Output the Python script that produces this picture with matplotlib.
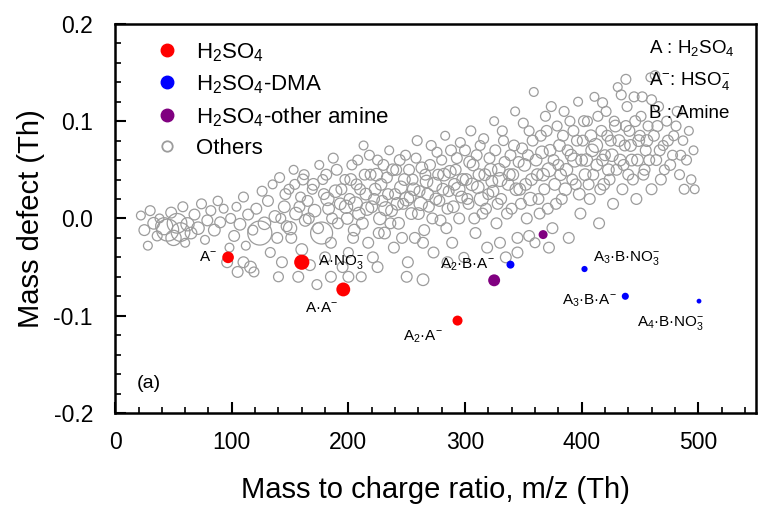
import matplotlib
matplotlib.use("Agg")
import matplotlib.pyplot as plt
from matplotlib.lines import Line2D
from matplotlib.ticker import MultipleLocator

plt.rcParams['font.family'] = ['Liberation Sans', 'DejaVu Sans']
plt.rcParams['mathtext.fontset'] = 'custom'
plt.rcParams['mathtext.rm'] = 'Liberation Sans'
plt.rcParams['mathtext.it'] = 'Liberation Sans:italic'
plt.rcParams['mathtext.default'] = 'regular'
plt.rcParams['axes.unicode_minus'] = False

# ---- Others (gray open circles): m/z, mass defect, marker size ----
others = [
    (22,0.003,40),(25,-0.012,60),(28,-0.028,40),(30,0.008,50),(33,-0.005,70),(36,-0.018,50),(38,0.0,40),
    (42,-0.008,150),(45,-0.012,250),(48,0.006,60),(50,-0.02,120),(53,-0.005,200),(56,-0.014,180),(58,0.012,50),(60,-0.025,40),
    (62,-0.006,90),(65,-0.015,70),(68,0.004,60),(71,-0.01,80),(74,0.015,50),(77,-0.022,40),(79,-0.002,60),
    (82,0.008,50),(85,-0.012,70),(88,0.018,45),(90,-0.004,60),(93,0.01,40),(96,-0.045,60),(98,-0.03,40),(99,0.0,50),
    (102,-0.018,60),(104,0.012,40),(107,-0.006,70),(110,0.022,50),(112,-0.028,40),(114,0.004,60),(116,-0.05,70),(118,-0.012,50),(119,-0.055,50),
    (121,0.01,60),(124,-0.015,300),(126,0.028,50),(128,-0.005,80),(131,0.018,60),(133,-0.035,50),(135,0.035,40),(137,0.002,70),(139,-0.02,60),
    (141,0.042,50),(143,-0.045,60),(145,0.012,70),(147,-0.008,60),(149,0.03,50),(151,-0.02,60),(153,0.05,40),(155,0.005,80),(157,-0.06,60),(159,0.022,50),(160,-0.032,70),
    (161,0.04,60),(163,-0.002,70),(165,0.018,60),(167,-0.048,60),(169,0.03,50),(171,0.008,80),(173,-0.068,50),(175,0.055,40),(177,-0.015,250),(179,0.025,60),(180,-0.04,60),
    (181,0.045,60),(183,0.01,70),(185,-0.025,60),(187,0.062,50),(189,0.028,80),(191,-0.005,60),(193,0.015,70),(195,-0.05,60),(197,0.04,50),(199,0.0,70),(200,-0.035,50),
    (201,0.02,60),(203,0.055,50),(205,-0.012,70),(207,0.035,60),(209,0.005,80),(211,-0.06,50),(213,0.075,40),(215,0.025,70),(217,-0.025,60),(219,0.045,60),(220,0.012,70),
    (221,-0.04,60),(223,0.03,70),(225,0.06,50),(227,0.0,80),(229,0.018,60),(231,-0.015,70),(233,0.042,60),(235,0.07,40),(237,0.008,70),(239,-0.03,60),(240,0.025,60),
    (241,0.05,60),(243,-0.005,70),(245,0.032,80),(247,0.015,60),(249,0.065,50),(251,-0.045,60),(253,0.022,70),(255,0.04,60),(257,-0.02,60),(259,0.08,50),(260,0.005,70),
    (261,0.028,60),(263,0.052,70),(265,-0.012,60),(267,0.038,80),(269,0.012,60),(271,0.075,50),(273,-0.035,60),(275,0.02,70),(277,0.045,60),(279,-0.002,60),(280,0.06,50),
    (281,0.03,70),(283,0.085,40),(285,0.01,60),(287,0.048,80),(289,-0.025,60),(291,0.035,70),(293,0.062,60),(295,0.0,60),(297,0.022,70),(299,-0.04,50),(300,0.07,60),
    (301,0.04,70),(303,0.015,60),(305,0.09,50),(307,0.055,70),(309,-0.015,60),(311,0.032,80),(313,0.075,50),(315,0.005,60),(317,0.045,70),(319,-0.03,60),(320,0.025,60),
    (321,0.062,60),(323,0.038,70),(325,0.1,40),(327,-0.005,60),(329,0.05,80),(331,0.02,60),(333,0.08,50),(335,-0.04,60),(337,0.035,70),(339,0.065,60),(340,0.01,60),
    (341,0.045,70),(343,0.11,40),(345,-0.02,60),(347,0.03,70),(349,0.072,60),(351,0.055,80),(353,0.0,60),(355,0.09,50),(357,0.04,70),(359,0.13,40),(360,-0.025,50),
    (361,0.06,70),(363,0.02,60),(365,0.085,60),(367,0.045,80),(369,0.105,50),(371,0.01,60),(373,0.07,70),(375,-0.01,60),(377,0.035,70),(379,0.095,50),(380,0.055,60),
    (381,0.075,70),(383,0.02,60),(385,0.11,50),(387,0.05,80),(389,-0.02,60),(391,0.065,70),(393,0.09,60),(395,0.035,60),(397,0.12,40),(399,0.005,60),(400,0.06,70),
    (401,0.08,60),(403,0.045,70),(405,0.1,50),(407,0.02,60),(409,0.07,80),(411,0.125,40),(413,0.055,70),(415,-0.005,60),(417,0.09,60),(419,0.035,70),(420,0.065,60),
    (421,0.11,50),(423,0.05,70),(425,0.08,60),(427,0.015,60),(429,0.095,70),(431,0.135,40),(433,0.06,70),(435,0.03,60),(437,0.075,60),(439,0.115,50),(440,0.045,60),
    (441,0.09,60),(443,0.06,70),(445,0.125,50),(447,0.02,60),(449,0.08,70),(451,0.105,50),(453,0.045,60),(455,0.07,60),(457,0.095,50),(459,0.145,40),(460,0.03,60),
    (462,0.085,60),(464,0.06,60),(466,0.115,50),(468,0.04,60),(470,0.075,50),(473,0.1,50),(476,0.055,60),(479,0.085,50),
    (482,0.11,50),(485,0.065,50),(488,0.03,50),(492,0.09,40),(496,0.07,40),
    # denser core of the band
    (142,0.0,50),(146,0.025,60),(150,-0.01,90),(154,0.035,50),(158,0.012,60),(162,0.045,50),(166,0.0,60),(170,0.035,70),(174,-0.01,60),(178,0.04,50),(182,0.02,90),(186,0.0,60),(190,0.05,60),(194,0.03,60),(198,0.012,90),
    (202,0.04,70),(204,-0.02,60),(206,0.015,100),(208,0.06,50),(210,0.03,60),(212,-0.005,70),(214,0.045,60),(216,0.01,90),(218,0.065,50),(222,0.02,60),(224,0.045,80),(226,-0.015,60),(228,0.035,70),(230,0.055,60),(232,0.01,100),(234,0.025,60),(236,-0.005,60),(238,0.05,70),(242,0.015,80),(244,0.06,60),(246,-0.02,60),(248,0.04,70),(250,0.02,100),
    (252,0.05,60),(254,0.005,70),(256,0.03,80),(258,0.062,50),(262,0.015,90),(264,-0.025,60),(266,0.045,60),(268,0.025,70),(270,0.055,60),(272,0.0,60),(274,0.035,100),(276,0.068,50),(278,0.018,60),(282,0.045,80),(284,-0.01,60),(286,0.028,60),(288,0.07,60),(290,0.012,70),(292,0.05,60),(294,0.03,100),(296,0.078,50),(298,0.04,70),
    (302,0.02,60),(304,0.058,70),(306,0.035,80),(308,0.0,60),(310,0.065,60),(312,0.045,70),(314,0.02,100),(316,0.082,50),(318,0.01,60),(322,0.05,80),(324,0.028,70),(326,0.07,60),(328,0.015,60),(330,0.04,100),(332,0.09,50),(334,0.058,60),(336,0.005,60),(338,0.045,70),(342,0.075,60),(344,0.03,80),(346,0.058,60),(348,0.015,60),(350,0.098,50),
    (352,0.035,70),(354,0.065,60),(356,0.02,90),(358,0.08,60),(362,0.045,70),(364,0.005,60),(366,0.068,80),(368,0.03,60),(370,0.09,60),(372,0.05,100),(374,0.115,50),(376,0.06,60),(378,0.015,60),(382,0.045,70),(384,0.085,60),(386,0.03,80),(388,0.07,60),(390,0.1,50),(392,0.04,60),(394,0.06,100),(396,0.08,60),(398,0.025,70),
    (402,0.1,60),(404,0.06,80),(406,0.035,60),(408,0.085,70),(410,0.045,60),(412,0.075,100),(414,0.105,50),(416,0.03,60),(418,0.06,70),(418,0.119,50),(422,0.085,60),(424,0.04,60),(426,0.065,80),(428,0.1,50),(430,0.05,60),(432,0.08,70),(434,0.127,50),(436,0.055,60),(438,0.143,50),(438,0.095,60),(442,0.075,70),(444,0.04,60),(446,0.1,60),(448,0.06,70),(450,0.085,60),(452,0.125,50),(454,0.05,60),(456,0.08,70),(458,0.06,60),(460,0.122,50),(463,0.147,45),
    (465,0.095,60),(467,0.07,60),(471,0.05,50),(474,0.08,60),(478,0.065,50),(481,0.095,50),(484,0.045,50),(487,0.08,45),(490,0.06,50),(494,0.04,45),(497,0.03,40),
    # lower outliers
    (264,-0.063,70),(372,-0.03,60),(355,-0.018,60),(345,-0.035,60),(330,-0.025,60),(285,-0.045,60),(250,-0.06,60),(225,-0.05,60),(200,-0.06,60),(185,-0.06,60),(140,-0.06,50),(105,-0.055,60),(110,-0.045,60),
]
others_mz = [p[0] for p in others]
others_md = [p[1] for p in others]
others_size = [p[2] for p in others]

# ---- H2SO4 clusters (red) ----
h2so4_mz = [96.8, 160.0, 195.6, 293.6]
h2so4_md = [-0.040, -0.045, -0.073, -0.105]
h2so4_size = [70, 120, 100, 52]
h2so4_labels = ['A$^{-}$', 'A·NO$_3^{-}$', 'A·A$^{-}$', 'A$_2$·A$^{-}$']

# ---- H2SO4-DMA clusters (blue) ----
dma_mz = [339.0, 402.5, 437.5, 500.7]
dma_md = [-0.0475, -0.052, -0.080, -0.085]
dma_size = [33, 20, 26, 12]
dma_labels = ['A$_2$·B·A$^{-}$', 'A$_3$·B·NO$_3^{-}$', 'A$_3$·B·A$^{-}$', 'A$_4$·B·NO$_3^{-}$']

# ---- H2SO4-other amine clusters (purple) ----
amine_mz = [325.0, 367.0]
amine_md = [-0.0636, -0.0166]
amine_size = [74, 42]

fig = plt.figure(figsize=(7.58, 5.08), dpi=100)
ax = fig.add_axes([0.152, 0.187, 0.846, 0.766])

ax.scatter(others_mz, others_md, s=others_size, facecolors='none',
           edgecolors='#9c9c9c', linewidths=0.9, zorder=2)
ax.scatter(h2so4_mz, h2so4_md, s=h2so4_size, color='#ff0000', zorder=3, linewidths=0)
ax.scatter(dma_mz, dma_md, s=dma_size, color='#0000ff', zorder=3, linewidths=0)
ax.scatter(amine_mz, amine_md, s=amine_size, color='#800080', zorder=3, linewidths=0)

# annotations (text offsets in points from the marker)
ann_fs = 11
red_offsets = [(-8, 0, 'right', 'center'), (12, 0, 'left', 'center'),
               (-4, -8, 'right', 'top'), (-11, -6, 'right', 'top')]
for x, y, t, (dx, dy, ha, va) in zip(h2so4_mz, h2so4_md, h2so4_labels, red_offsets):
    ax.annotate(t, (x, y), xytext=(dx, dy), textcoords='offset points',
                ha=ha, va=va, fontsize=ann_fs)
blue_offsets = [(-11, 0, 'right', 'center'), (6, 8, 'left', 'center'),
                (-6, -3, 'right', 'center'), (-20, -16, 'center', 'center')]
for x, y, t, (dx, dy, ha, va) in zip(dma_mz, dma_md, dma_labels, blue_offsets):
    ax.annotate(t, (x, y), xytext=(dx, dy), textcoords='offset points',
                ha=ha, va=va, fontsize=ann_fs)

ax.text(0.033, 0.077, '(a)', transform=ax.transAxes, fontsize=14, ha='left', va='center')

ax.text(0.833, 0.938, 'A : H$_2$SO$_4$', transform=ax.transAxes, fontsize=13.5, ha='left', va='center')
ax.text(0.833, 0.853, 'A$^{-}$: HSO$_4^{-}$', transform=ax.transAxes, fontsize=13.5, ha='left', va='center')
ax.text(0.833, 0.769, 'B : Amine', transform=ax.transAxes, fontsize=13.5, ha='left', va='center')

handles = [
    Line2D([], [], marker='o', linestyle='none', markersize=9, color='#ff0000'),
    Line2D([], [], marker='o', linestyle='none', markersize=9, color='#0000ff'),
    Line2D([], [], marker='o', linestyle='none', markersize=9, color='#800080'),
    Line2D([], [], marker='o', linestyle='none', markersize=7.5, markerfacecolor='none',
           markeredgecolor='#9c9c9c', markeredgewidth=1.3),
]
labels = ['H$_2$SO$_4$', 'H$_2$SO$_4$-DMA', 'H$_2$SO$_4$-other amine', 'Others']
ax.legend(handles, labels, loc='upper left', bbox_to_anchor=(0.025, 0.99),
          frameon=False, fontsize=16, handletextpad=0.3, labelspacing=0.42,
          borderaxespad=0.2)

ax.set_xlim(0, 550)
ax.set_ylim(-0.2, 0.2)
ax.xaxis.set_major_locator(MultipleLocator(100))
ax.xaxis.set_minor_locator(MultipleLocator(20))
ax.yaxis.set_major_locator(MultipleLocator(0.1))
ax.yaxis.set_minor_locator(MultipleLocator(0.02))
ax.yaxis.set_major_formatter(plt.FormatStrFormatter('%.1f'))
ax.tick_params(which='major', direction='in', length=8, width=1.5, labelsize=16.5)
ax.tick_params(axis='x', which='major', pad=13)
ax.tick_params(axis='y', which='major', pad=16)
ax.tick_params(which='minor', direction='in', length=4, width=1.2)
for sp in ax.spines.values():
    sp.set_linewidth(1.8)

ax.set_xlabel('Mass to charge ratio, m/z (Th)', fontsize=21, labelpad=16)
ax.set_ylabel('Mass defect (Th)', fontsize=21, labelpad=6)

fig.savefig('out.png', dpi=100)
